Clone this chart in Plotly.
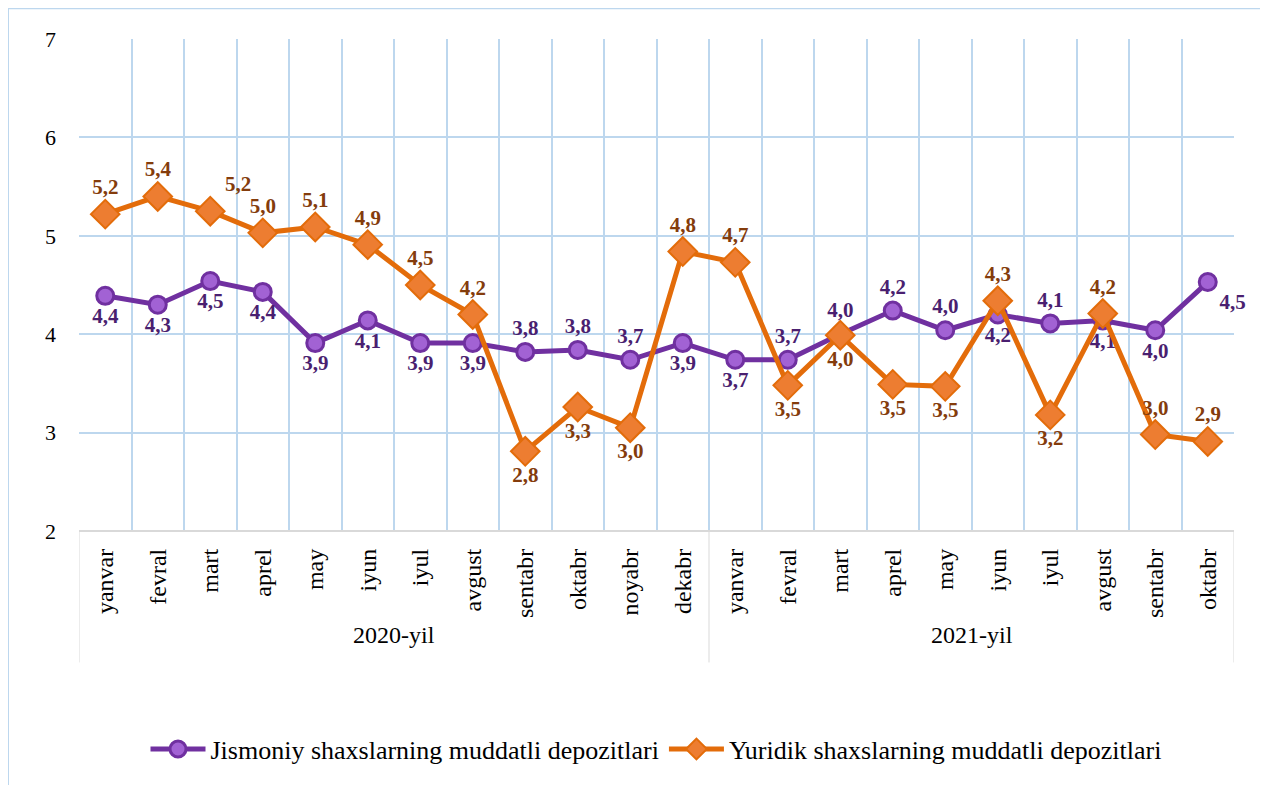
import plotly.graph_objects as go

months_2020 = ["yanvar", "fevral", "mart", "aprel", "may", "iyun", "iyul",
               "avgust", "sentabr", "oktabr", "noyabr", "dekabr"]
months_2021 = ["yanvar", "fevral", "mart", "aprel", "may", "iyun", "iyul",
               "avgust", "sentabr", "oktabr"]
month_labels = months_2020 + months_2021
years = ["2020-yil", "2021-yil"]

jismoniy = [4.39, 4.30, 4.54, 4.43, 3.91, 4.14, 3.91, 3.91, 3.82, 3.84, 3.74, 3.91,
            3.74, 3.74, 4.00, 4.24, 4.04, 4.20, 4.11, 4.14, 4.04, 4.53]
yuridik = [5.22, 5.40, 5.25, 5.03, 5.09, 4.91, 4.50, 4.20, 2.81, 3.26, 3.05, 4.84,
           4.73, 3.48, 3.99, 3.49, 3.47, 4.34, 3.18, 4.21, 2.98, 2.91]

name_j = "Jismoniy shaxslarning muddatli depozitlari"
name_y = "Yuridik shaxslarning muddatli depozitlari"

pos_j = ["bottom center"] * 8 + ["top center", "top center", "top center", "bottom center",
         "bottom center", "top center", "top center", "top center", "top center",
         "bottom center", "top center", "bottom center", "bottom center", "bottom right"]
pos_y = ["top center", "top center", "top right"] + ["top center"] * 5 + [
         "bottom center", "bottom center", "bottom center", "top center",
         "top center", "bottom center", "bottom center", "bottom center", "bottom center",
         "top center", "bottom center", "top center", "top center", "top center"]

x = list(range(len(month_labels)))

def fmt(v):
    return f"{v:.1f}".replace(".", ",")

FONT = "Liberation Serif, Times New Roman, serif"
GRID = "#BDD7EE"

fig = go.Figure()
fig.add_trace(go.Scatter(
    x=x, y=jismoniy, name=name_j, mode="lines+markers+text",
    line=dict(color="#7030A0", width=5),
    marker=dict(symbol="circle", size=17, color="#A262D4",
                line=dict(color="#7030A0", width=3)),
    text=[fmt(v) for v in jismoniy], textposition=pos_j,
    textfont=dict(family=FONT, size=21, color="#4A1F70", weight="bold"),
    cliponaxis=False,
))
fig.add_trace(go.Scatter(
    x=x, y=yuridik, name=name_y, mode="lines+markers+text",
    line=dict(color="#E36C0A", width=5),
    marker=dict(symbol="diamond", size=22, color="#ED7D31",
                line=dict(color="#E36C0A", width=2)),
    text=[fmt(v) for v in yuridik], textposition=pos_y,
    textfont=dict(family=FONT, size=21, color="#843C0C", weight="bold"),
    cliponaxis=False,
))

# page is offset by the 8px body margin
W, H = 1260, 777
L, T = 71, 31
plot_w = 1226 - L
plot_h = 525 - T

shapes = []
for xv in [-0.5, 11.5, 21.5]:
    shapes.append(dict(type="line", xref="x", yref="paper", x0=xv, x1=xv,
                       y0=0, y1=-(657 - 525) / plot_h,
                       line=dict(color="#D9D9D9", width=1)))
shapes.append(dict(type="line", xref="x", yref="paper", x0=-0.5, x1=21.5,
                   y0=0, y1=0, line=dict(color="#D9D9D9", width=2)))
shapes.append(dict(type="rect", xref="paper", yref="paper",
                   x0=(0 - L) / plot_w, x1=(1255 - L) / plot_w,
                   y0=-(790 - 525) / plot_h, y1=(525 - 0) / plot_h,
                   line=dict(color=GRID, width=2), layer="below"))

annotations = []
for xv, yr in zip([5.5, 16.5], years):
    annotations.append(dict(x=xv, xref="x", y=-(644 - 525) / plot_h, yref="paper",
                            text=yr, showarrow=False,
                            font=dict(family=FONT, size=24, color="#000000")))

fig.update_layout(
    width=W, height=H,
    margin=dict(l=L, r=W - 1226, t=T, b=H - 525),
    paper_bgcolor="white", plot_bgcolor="white",
    font=dict(family=FONT, color="#000000"),
    showlegend=True,
    legend=dict(orientation="h", x=(648 - L) / plot_w, xanchor="center",
                y=-(744 - 525) / plot_h, yanchor="middle",
                font=dict(family=FONT, size=26, color="#000000"),
                itemwidth=55, traceorder="normal"),
    shapes=shapes, annotations=annotations,
)
fig.update_xaxes(
    range=[-0.5, 21.5], tickmode="array", tickvals=x, ticktext=month_labels,
    tickangle=-90, tickfont=dict(family=FONT, size=24, color="#000000"),
    ticklabelstandoff=12,
    showgrid=False, zeroline=False, showline=False, ticks="",
    minor=dict(tickmode="array", tickvals=[v - 0.5 for v in range(23)],
               showgrid=True, gridcolor=GRID, gridwidth=2, ticks=""),
    fixedrange=True,
)
fig.update_yaxes(
    range=[2, 7], tickvals=[2, 3, 4, 5, 6, 7], showgrid=True, gridcolor=GRID,
    gridwidth=2, zeroline=False, showline=False,
    tickfont=dict(family=FONT, size=22, color="#000000"), ticklabelstandoff=22,
    fixedrange=True,
)

fig.write_html("out.html")
